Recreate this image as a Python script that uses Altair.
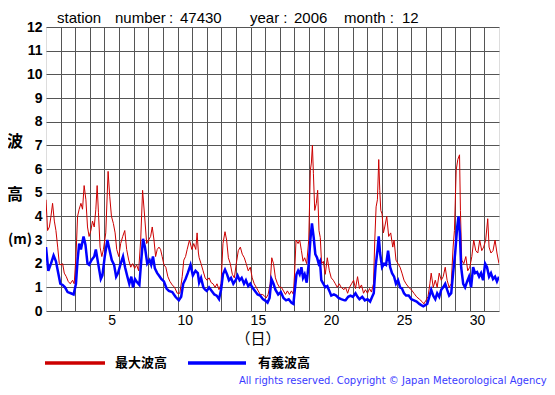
import altair as alt
import pandas as pd

# ---- data (day of month, wave height in m) ----
red_day = [0.50,0.61,0.73,0.84,0.95,1.07,1.18,1.30,1.41,1.52,1.64,1.75,1.89,2.02,2.16,2.32,2.43,2.55,2.66,2.77,
           2.89,3.00,3.11,3.23,3.34,3.45,3.57,3.68,3.80,3.91,4.00,4.09,4.20,4.32,4.43,4.59,4.75,4.86,4.98,5.11,
           5.23,5.34,5.48,5.61,5.75,5.89,6.02,6.16,6.30,6.43,6.57,6.70,6.84,6.98,7.11,7.25,7.39,7.52,7.66,7.77,
           7.89,8.00,8.11,8.23,8.34,8.45,8.57,8.70,8.84,8.98,9.14,9.30,9.48,9.66,9.82,9.93,10.05,10.16,10.32,10.48,
           10.61,10.75,10.84,10.93,10.98,11.11,11.25,11.39,11.52,11.66,11.80,11.93,12.07,12.20,12.34,12.48,12.61,12.75,12.86,12.98,
           13.11,13.25,13.39,13.52,13.66,13.80,13.93,14.07,14.20,14.34,14.48,14.61,14.75,14.89,15.02,15.16,15.30,15.43,15.57,15.70,
           15.84,15.95,16.07,16.20,16.34,16.48,16.61,16.75,16.89,17.02,17.16,17.30,17.43,17.52,17.61,17.75,17.86,17.98,18.09,18.20,
           18.34,18.48,18.59,18.66,18.73,18.80,18.89,19.00,19.09,19.18,19.27,19.36,19.48,19.61,19.75,19.89,20.02,20.16,20.30,20.43,
           20.57,20.70,20.89,21.00,21.14,21.27,21.41,21.55,21.68,21.82,21.95,22.09,22.23,22.36,22.50,22.64,22.77,22.91,23.00,23.09,
           23.18,23.27,23.34,23.41,23.50,23.59,23.68,23.82,23.95,24.09,24.23,24.32,24.45,24.59,24.73,24.86,25.00,25.14,25.32,25.50,
           25.68,25.86,26.05,26.23,26.36,26.50,26.64,26.77,26.86,27.00,27.14,27.27,27.41,27.55,27.68,27.82,27.95,28.09,28.23,28.36,
           28.45,28.57,28.68,28.80,28.86,28.95,29.09,29.23,29.36,29.50,29.64,29.77,29.91,30.05,30.18,30.32,30.45,30.59,30.73,30.82,
           30.95,31.09,31.23,31.36,31.50]
red_val = [4.7,3.4,3.55,4.0,4.55,3.8,3.4,2.7,2.0,1.95,2.0,1.6,1.45,1.25,1.15,1.3,1.15,2.3,4.0,4.3,
           4.55,4.3,5.3,4.7,3.55,3.15,3.4,3.8,3.55,4.3,5.3,4.15,2.7,2.3,2.6,3.3,5.9,4.85,4.0,3.7,
           3.3,2.6,2.3,2.85,3.15,3.4,2.6,2.15,1.85,2.0,1.8,1.95,1.7,3.0,5.1,4.0,2.85,3.0,3.15,3.55,
           3.0,2.3,2.6,2.7,2.6,2.3,1.95,1.85,1.45,1.25,1.1,1.0,0.75,0.75,1.45,2.15,2.3,2.6,3.0,2.6,
           2.85,2.6,3.3,2.45,2.25,2.0,1.7,1.4,1.3,1.4,1.2,1.15,1.0,1.15,0.9,1.15,2.85,3.35,3.0,2.25,
           2.0,1.55,1.4,2.0,2.55,2.7,2.4,2.25,2.0,1.7,1.85,1.4,1.15,1.0,0.85,0.7,0.7,0.65,0.55,0.7,
           1.15,2.25,2.0,1.4,1.15,1.0,1.0,0.85,0.7,0.85,0.7,0.85,0.7,1.7,3.0,2.85,3.0,2.55,2.1,2.25,
           2.0,3.0,5.95,6.25,7.0,5.8,4.25,4.55,5.1,3.4,3.1,2.0,2.1,1.55,2.25,1.7,1.4,1.3,1.15,1.0,
           1.15,1.0,0.9,1.0,0.75,1.0,1.15,1.3,0.95,1.45,0.95,1.1,0.75,0.9,0.75,0.95,0.8,1.15,3.0,4.4,
           4.7,6.4,5.1,4.25,4.1,3.3,3.55,4.0,3.15,3.3,2.7,3.0,2.15,2.0,1.85,1.6,1.3,1.15,1.0,0.9,
           0.75,0.6,0.5,0.4,0.3,0.45,0.6,1.15,1.6,1.0,1.3,1.0,1.6,1.3,1.45,1.85,1.3,1.0,1.15,2.7,
           3.4,5.95,6.4,6.6,4.25,2.15,2.0,2.3,1.7,1.85,2.3,3.0,2.55,2.45,3.0,2.55,2.7,3.0,3.9,2.7,
           2.45,2.55,3.0,2.45,2.0]

blue_day = [0.50,0.66,0.84,1.02,1.18,1.34,1.48,1.64,1.80,1.98,2.20,2.39,2.55,2.66,2.77,2.89,3.07,3.20,3.34,3.45,
            3.61,3.80,3.91,4.07,4.25,4.36,4.52,4.70,4.84,5.00,5.16,5.30,5.43,5.61,5.77,5.91,6.07,6.20,6.34,6.45,
            6.59,6.75,6.89,7.02,7.14,7.27,7.43,7.59,7.70,7.82,7.95,8.11,8.23,8.39,8.57,8.75,8.91,9.14,9.36,9.59,
            9.75,9.89,10.05,10.20,10.39,10.55,10.73,10.89,10.98,11.11,11.27,11.39,11.50,11.66,11.84,12.02,12.18,12.34,12.48,12.61,
            12.75,12.89,13.02,13.16,13.32,13.48,13.61,13.75,13.89,14.05,14.18,14.34,14.48,14.61,14.80,14.98,15.16,15.34,15.48,15.66,
            15.80,15.93,16.07,16.20,16.39,16.57,16.75,16.93,17.11,17.30,17.43,17.52,17.64,17.75,17.86,17.98,18.09,18.20,18.34,18.48,
            18.59,18.70,18.82,18.93,19.05,19.16,19.25,19.34,19.48,19.61,19.75,19.89,20.02,20.20,20.36,20.52,20.70,20.93,21.00,21.18,
            21.34,21.50,21.68,21.82,21.95,22.14,22.32,22.50,22.68,22.82,22.93,23.05,23.18,23.27,23.36,23.50,23.64,23.77,23.91,24.05,
            24.18,24.32,24.45,24.59,24.73,24.86,25.00,25.14,25.32,25.50,25.68,25.86,26.05,26.18,26.32,26.45,26.59,26.73,26.86,27.00,
            27.14,27.27,27.41,27.55,27.68,27.82,27.95,28.09,28.23,28.36,28.50,28.64,28.73,28.82,28.91,29.05,29.18,29.32,29.45,29.59,
            29.73,29.86,30.00,30.14,30.27,30.41,30.55,30.68,30.82,30.95,31.09,31.23,31.36,31.50]
blue_val = [2.7,1.7,2.0,2.35,2.1,1.6,1.15,1.1,1.0,0.8,0.75,0.7,1.15,2.15,2.85,2.6,3.15,2.8,2.0,1.95,
            2.15,2.3,2.6,2.0,1.35,1.5,2.3,3.0,2.6,2.15,1.95,1.45,1.6,2.0,2.3,1.85,1.45,1.15,1.45,1.0,
            1.35,1.2,1.1,2.15,3.05,2.7,2.0,2.15,1.95,2.3,1.8,1.6,1.5,1.35,1.25,0.95,0.85,0.8,0.6,0.45,
            0.6,1.15,1.35,1.6,1.95,1.5,1.7,1.6,1.2,1.4,1.0,0.9,0.85,1.0,0.85,0.7,0.65,0.5,0.9,1.55,
            1.75,1.55,1.3,1.4,1.15,1.3,1.5,1.3,1.4,1.15,1.3,1.05,1.15,1.0,0.85,0.7,0.65,0.5,0.45,0.35,
            0.55,1.35,1.15,0.9,0.7,0.8,0.55,0.45,0.5,0.35,0.3,0.85,1.55,1.7,1.55,1.85,1.4,1.55,1.2,2.0,
            3.0,3.7,3.1,2.4,2.25,2.0,2.1,1.3,1.15,1.0,1.05,0.85,0.65,0.7,0.65,0.55,0.5,0.45,0.45,0.6,
            0.65,0.6,0.75,0.6,0.5,0.6,0.45,0.5,0.4,0.6,0.75,1.85,2.55,3.15,2.45,1.85,2.0,1.95,2.55,1.85,
            1.6,1.45,1.15,1.3,1.0,0.95,0.75,0.65,0.65,0.5,0.45,0.4,0.3,0.25,0.2,0.25,0.3,0.6,0.9,0.65,
            0.5,0.75,0.6,0.9,1.0,1.15,0.9,0.65,0.75,1.6,2.45,3.55,4.0,3.3,1.85,1.15,1.0,1.25,1.45,1.0,
            1.85,1.6,1.65,1.45,1.6,1.3,2.0,1.85,1.45,1.6,1.35,1.45,1.25,1.45]

grid_days = [d + 0.5 for d in range(1, 31)]   # column boundaries (grid lines)
y_ticks = list(range(0, 13))

red_df = pd.DataFrame({"day": red_day, "h": red_val})
blue_df = pd.DataFrame({"day": blue_day, "h": blue_val})

LAT = "Liberation Sans"
CJK = "Noto Sans CJK JP"

x_enc = alt.X("day:Q", scale=alt.Scale(domain=[0.5, 31.5], nice=False, zero=False),
              axis=alt.Axis(values=grid_days, title=None, grid=True, ticks=False, domain=False,
                            labelExpr="(datum.value + 0.5) % 5 == 0 ? format(datum.value + 0.5, 'd') : ''",
                            labelOffset=7.3, labelPadding=2, labelFont=LAT, labelFontSize=14,
                            labelColor="black", labelFlush=False, labelOverlap=False,
                            gridColor="#555555", gridOpacity=1, gridWidth=1))
y_enc = alt.Y("h:Q", scale=alt.Scale(domain=[0, 12], nice=False),
              axis=alt.Axis(values=y_ticks, title=None, grid=True, ticks=False, domain=False,
                            labelPadding=4, labelFont=LAT, labelFontSize=14, labelFontWeight="bold",
                            labelColor="black", labelFlush=False, labelOverlap=False,
                            gridColor="#555555", gridOpacity=1, gridWidth=1))

red_line = alt.Chart(red_df).mark_line(color="#cc0000", strokeWidth=1, clip=True).encode(x=x_enc, y=y_enc)
blue_line = alt.Chart(blue_df).mark_line(color="#0000ff", strokeWidth=2.5, clip=True).encode(x=x_enc, y=y_enc)

one = alt.Data(values=[{}])


def txt(s, x, y, font=LAT, size=14, weight="normal", align="left", baseline="alphabetic", color="black"):
    return alt.Chart(one).mark_text(text=s, font=font, fontSize=size, fontWeight=weight, align=align,
                                    baseline=baseline, color=color).encode(x=alt.value(x), y=alt.value(y))


def rule(x1, x2, y, color, w):
    return alt.Chart(one).mark_rule(color=color, strokeWidth=w).encode(
        x=alt.value(x1), x2=alt.value(x2), y=alt.value(y))


texts = [
    txt("station", 11, -4.5, size=15),
    txt("number", 69, -4.5, size=15),
    txt(":", 123, -4.5, size=15),
    txt("47430", 134, -4.5, size=15),
    txt("year :", 204, -4.5, size=15),
    txt("2006", 248, -4.5, size=15),
    txt("month :", 298, -4.5, size=15),
    txt("12", 356, -4.5, size=15),
    txt("波", -31, 115, font=CJK, size=16, weight="bold", align="center", baseline="middle"),
    txt("高", -31, 168, font=CJK, size=16, weight="bold", align="center", baseline="middle"),
    txt("(m)", -26, 213, font=CJK, size=14, weight="bold", align="center", baseline="middle"),
    txt("（日）", 212, 311.5, font=CJK, size=15, align="center", baseline="middle"),
    rule(-1, 59, 336, "#cc0000", 3.3),
    txt("最大波高", 69, 336, font=CJK, size=13, weight="bold", baseline="middle"),
    rule(142, 200, 336, "#0000ff", 3.7),
    txt("有義波高", 212, 336, font=CJK, size=13, weight="bold", baseline="middle"),
    txt("All rights reserved. Copyright © Japan Meteorological Agency", 193, 354,
        font="DejaVu Sans", size=10, baseline="middle", color="#3a3aff"),
]

chart = alt.layer(red_line, blue_line, *texts).properties(
    width=453, height=284,
    autosize="none",
    padding={"left": 38, "top": 19, "right": 48, "bottom": 76},
).configure_view(stroke="black", strokeWidth=2).configure(background="white")

chart.save("out.html", embed_options={"renderer": "svg", "actions": False})
